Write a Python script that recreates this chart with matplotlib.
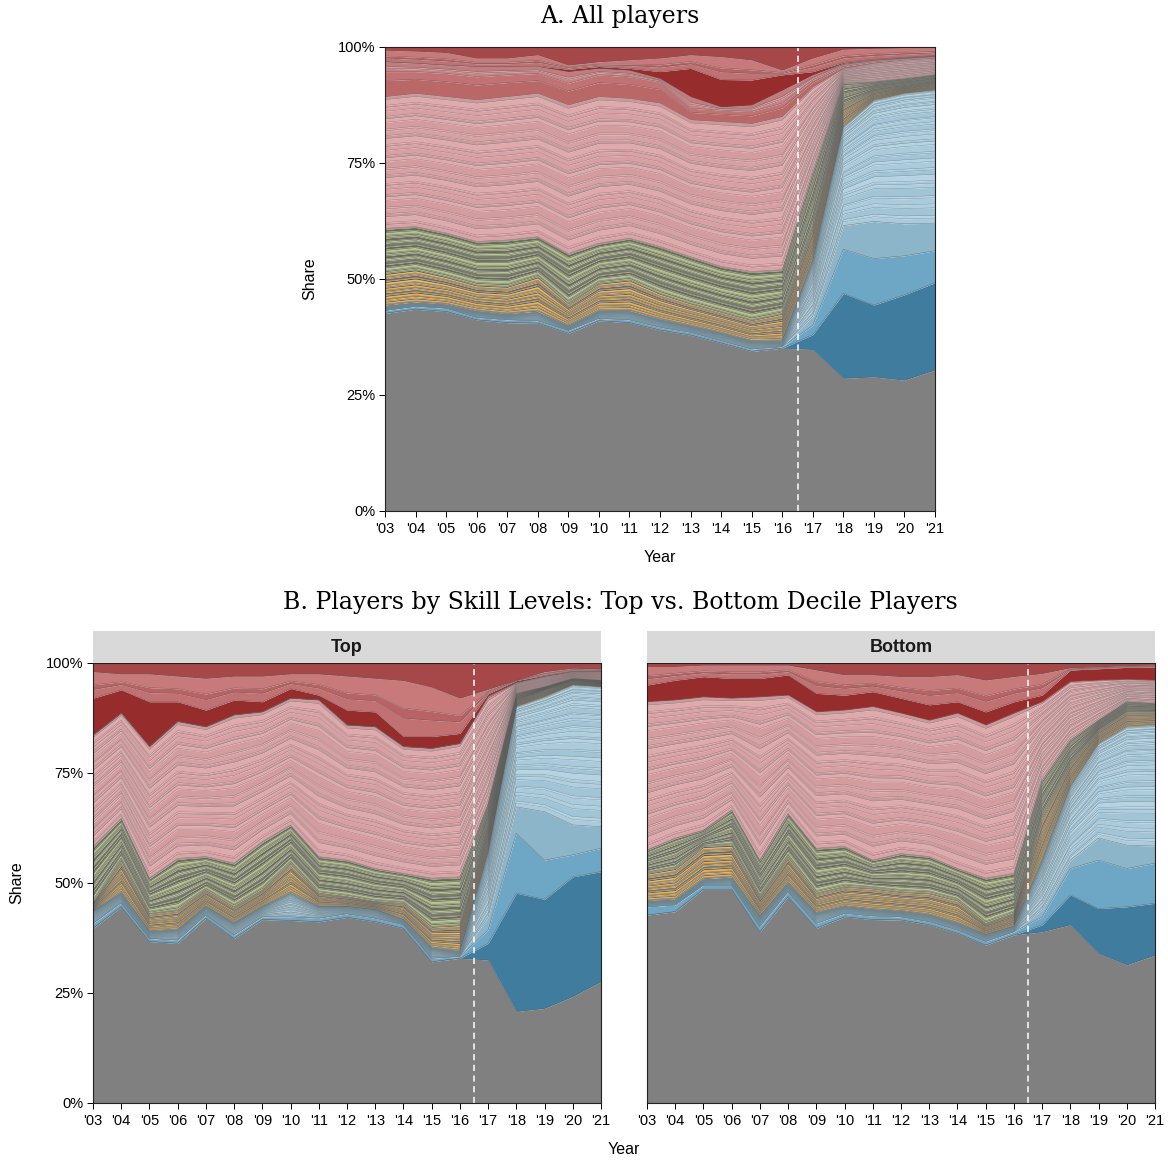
import numpy as np
import matplotlib.pyplot as plt

W, H = 1168, 1162
years = list(range(2003, 2022))
year_labels = ["'%02d" % (y % 100) for y in years]

groups = ['gray', 'dblue', 'mblue', 'lblue2', 'lblue', 'orange', 'green',
          'pink', 'red_mid', 'rose', 'darkred', 'salmon', 'topred']

# ---- Panel A: all players (share in %, bottom to top) ----
all_gray = [42.6, 43.5, 43.0, 41.2, 40.6, 40.5, 38.3, 41.0, 40.6, 39.0, 37.9, 36.2, 34.4, 35.1, 34.8, 28.6, 28.9, 28.2, 30.4]
all_dblue = [0, 0, 0, 0, 0, 0, 0, 0, 0, 0, 0, 0, 0, 0, 3.2, 18.3, 15.5, 18.4, 18.8]
all_mblue = [0.6, 0.6, 0.7, 0.5, 0.6, 0.5, 0.6, 0.5, 0.6, 0.6, 0.6, 0.5, 0.5, 0.3, 2.0, 9.5, 10.0, 8.4, 6.9]
all_lblue2 = [0, 0, 0, 0, 0, 0, 0, 0, 0, 0, 0, 0, 0, 0, 2.0, 5.1, 8.0, 6.9, 5.9]
all_lblue = [0.9, 0.7, 0.7, 1.3, 1.1, 1.8, 0.9, 1.5, 1.8, 1.6, 1.3, 1.6, 1.6, 1.1, 11.8, 21.3, 26.1, 28.1, 28.7]
all_orange = [7.1, 7.2, 6.1, 5.7, 6.1, 7.7, 5.0, 6.1, 6.8, 5.7, 5.0, 4.7, 4.7, 6.1, 7.5, 4.7, 2.0, 1.4, 1.6]
all_green = [9.7, 9.3, 9.4, 9.4, 10.0, 8.6, 10.7, 8.6, 9.0, 10.1, 10.0, 9.7, 10.4, 9.4, 11.5, 4.7, 2.0, 1.8, 1.7]
all_pink = [28.4, 28.7, 29.4, 30.5, 30.9, 30.9, 32.0, 31.6, 30.1, 30.9, 29.5, 31.2, 31.9, 33.0, 18.6, 3.2, 4.0, 4.0, 3.6]
all_red_mid = [5.4, 4.7, 5.0, 5.0, 4.7, 4.3, 4.7, 4.7, 4.7, 4.6, 2.5, 2.5, 2.6, 2.9, 1.5, 0.6, 0.5, 0.3, 0.3]
all_rose = [2.1, 1.8, 1.8, 2.2, 1.8, 1.5, 2.5, 1.4, 1.4, 0.7, 2.5, 0.7, 1.4, 2.8, 1.1, 0.5, 0.3, 0.2, 0.2]
all_darkred = [0, 0, 0, 0, 0, 0.1, 0.5, 0.4, 0.4, 1.5, 6.1, 5.9, 5.4, 3.3, 0.7, 0.2, 0.1, 0.1, 0.1]
all_salmon = [2.5, 2.6, 2.7, 1.8, 1.8, 2.4, 0.9, 1.0, 1.8, 2.9, 2.9, 4.9, 4.3, 1.0, 2.9, 2.8, 2.3, 2.0, 1.6]
all_topred = [0.7, 0.9, 1.2, 2.4, 2.4, 1.7, 3.9, 3.2, 2.8, 2.4, 1.7, 2.1, 2.8, 5.0, 2.4, 0.5, 0.3, 0.2, 0.2]

# ---- Panel B: top decile players ----
top_gray = [39.7, 44.6, 36.7, 36.3, 42.0, 37.4, 41.7, 41.5, 41.2, 42.2, 41.2, 39.7, 32.1, 32.9, 32.5, 20.8, 21.5, 24.2, 27.6]
top_dblue = [0, 0, 0, 0, 0, 0, 0, 0, 0, 0, 0, 0, 0, 0, 3.8, 26.9, 24.8, 27.2, 25.0]
top_mblue = [1.1, 0.9, 0.7, 0.7, 0.7, 0.8, 0.6, 0.8, 0.8, 0.8, 0.8, 0.8, 0.8, 0.4, 3.0, 13.6, 8.9, 5.0, 5.3]
top_lblue2 = [0, 0, 0, 0, 0, 0, 0, 0, 0, 0, 0, 0, 0, 0, 3.0, 6.0, 11.0, 6.8, 4.9]
top_lblue = [2.7, 2.2, 1.5, 2.3, 1.9, 2.6, 2.3, 5.4, 2.6, 1.6, 1.9, 1.1, 2.3, 1.1, 14.7, 22.8, 26.1, 31.8, 31.8]
top_orange = [1.9, 7.5, 4.2, 4.6, 3.8, 3.8, 3.8, 6.8, 3.1, 2.3, 1.9, 3.8, 4.9, 6.1, 5.0, 1.5, 1.6, 1.1, 0.8]
top_green = [12.9, 9.5, 8.0, 11.7, 7.6, 9.9, 11.0, 8.7, 8.3, 8.3, 7.5, 6.8, 11.0, 10.9, 6.1, 1.5, 0.7, 0.4, 0.7]
top_pink = [25.3, 23.9, 29.9, 31.1, 29.5, 33.7, 29.5, 28.8, 35.6, 30.7, 32.2, 28.8, 29.5, 30.3, 23.9, 2.3, 2.3, 1.5, 1.9]
top_red_mid = [0, 0, 0, 0, 0, 0, 0, 0, 0, 0, 0, 0, 0, 0, 0.5, 0.2, 0.1, 0.1, 0.1]
top_rose = [0] * 19
top_darkred = [8.4, 5.3, 10.2, 4.5, 3.8, 3.4, 2.3, 2.2, 1.1, 3.4, 3.4, 2.3, 2.7, 2.3, 0.5, 0.4, 0.2, 0.1, 0.1]
top_salmon = [6.0, 3.6, 6.3, 5.8, 7.2, 5.4, 5.8, 3.3, 4.8, 7.7, 7.6, 12.7, 11.2, 8.0, 1.0, 0.1, 0.8, 0.6, 0.4]
top_topred = [2.0, 2.5, 2.5, 3.0, 3.5, 3.0, 3.0, 2.5, 2.5, 3.0, 3.5, 4.0, 5.5, 8.0, 6.0, 3.9, 2.0, 1.2, 1.4]

# ---- Panel B: bottom decile players ----
bot_gray = [42.7, 43.5, 48.6, 48.6, 38.9, 46.9, 39.7, 42.3, 41.7, 41.6, 40.5, 38.6, 35.9, 38.2, 38.9, 40.5, 34.0, 31.4, 33.6]
bot_dblue = [0, 0, 0, 0, 0, 0, 0, 0, 0, 0, 0, 0, 0, 0, 1.6, 6.8, 10.2, 13.2, 11.8]
bot_mblue = [1.9, 1.5, 0.9, 0.9, 1.2, 1.1, 1.1, 0.8, 0.8, 0.7, 0.7, 0.7, 0.8, 0.7, 1.8, 6.0, 11.0, 8.7, 9.1]
bot_lblue2 = [0, 0, 0, 0, 0, 0, 0, 0, 0, 0, 0, 0, 0, 0, 1.6, 1.9, 5.0, 5.3, 3.9]
bot_lblue = [1.2, 1.1, 1.2, 1.6, 2.2, 1.9, 2.3, 1.5, 1.4, 1.2, 1.5, 1.5, 1.5, 1.2, 11.1, 16.7, 21.5, 26.9, 27.5]
bot_orange = [6.4, 7.2, 7.6, 7.5, 4.6, 6.1, 4.6, 4.6, 4.9, 4.5, 5.0, 5.3, 2.6, 3.0, 10.1, 5.3, 3.1, 3.4, 3.0]
bot_green = [5.3, 6.9, 3.7, 8.0, 8.3, 9.8, 10.2, 9.1, 6.4, 8.7, 8.3, 7.2, 10.3, 9.1, 8.3, 5.3, 2.2, 2.3, 1.9]
bot_pink = [33.7, 31.4, 30.3, 25.4, 37.1, 26.9, 31.0, 31.0, 34.9, 31.9, 31.0, 35.3, 34.8, 36.4, 17.8, 13.3, 9.1, 5.1, 5.3]
bot_red_mid = [0] * 19
bot_rose = [0] * 19
bot_darkred = [3.8, 4.5, 4.6, 4.5, 4.2, 4.6, 4.2, 3.4, 3.4, 3.4, 3.5, 2.6, 3.0, 2.6, 1.5, 2.6, 2.6, 2.7, 3.0]
bot_salmon = [4.2, 3.1, 2.6, 3.0, 3.0, 2.2, 5.3, 4.6, 3.8, 4.9, 6.4, 6.1, 7.2, 5.7, 4.9, 0.5, 0.4, 0.4, 0.4]
bot_topred = [0.8, 0.8, 0.5, 0.5, 0.5, 0.5, 1.6, 2.7, 2.7, 3.1, 3.1, 2.7, 3.9, 3.1, 2.4, 1.1, 0.9, 0.6, 0.5]

panel_all = dict(gray=all_gray, dblue=all_dblue, mblue=all_mblue, lblue2=all_lblue2,
                 lblue=all_lblue, orange=all_orange, green=all_green, pink=all_pink,
                 red_mid=all_red_mid, rose=all_rose, darkred=all_darkred,
                 salmon=all_salmon, topred=all_topred)
panel_top = dict(gray=top_gray, dblue=top_dblue, mblue=top_mblue, lblue2=top_lblue2,
                 lblue=top_lblue, orange=top_orange, green=top_green, pink=top_pink,
                 red_mid=top_red_mid, rose=top_rose, darkred=top_darkred,
                 salmon=top_salmon, topred=top_topred)
panel_bot = dict(gray=bot_gray, dblue=bot_dblue, mblue=bot_mblue, lblue2=bot_lblue2,
                 lblue=bot_lblue, orange=bot_orange, green=bot_green, pink=bot_pink,
                 red_mid=bot_red_mid, rose=bot_rose, darkred=bot_darkred,
                 salmon=bot_salmon, topred=bot_topred)

# fill tints per group, how many thin strata each group is split into, divider colour
palettes = {
    'gray': ['#808080'],
    'dblue': ['#3f7c9d'],
    'mblue': ['#6ea7c6'],
    'lblue2': ['#8cb5ca'],
    'lblue': ['#aacbdc', '#b6d3e2', '#a1c4d6', '#afcede'],
    'orange': ['#f2b13f', '#6e6e6e', '#d9aa62', '#8a7d66', '#f0b95a', '#5f5f5f'],
    'green': ['#a9b67b', '#7b7e6c', '#b6c08a', '#9aa56f', '#6d6f63'],
    'pink': ['#dba2a5', '#d59ca0', '#e0aaad', '#c99a9c', '#d8a0a3'],
    'red_mid': ['#ba6767', '#c27273'],
    'rose': ['#c98284', '#d29395', '#c47b7d'],
    'darkred': ['#972c2d'],
    'salmon': ['#c27172', '#b86263', '#c87a7b'],
    'topred': ['#a64849'],
}
n_strata = {'gray': 1, 'dblue': 1, 'mblue': 1, 'lblue2': 1, 'lblue': 40, 'orange': 24,
            'green': 26, 'pink': 34, 'red_mid': 2, 'rose': 3, 'darkred': 1,
            'salmon': 3, 'topred': 1}
line_cols = {'pink': '#857475', 'lblue': '#6c8591'}
spacing_cycle = [1.0, 0.55, 1.5, 0.8, 1.25, 0.45, 1.8, 0.9, 0.65, 1.35]


def fractions(n):
    w = np.array([spacing_cycle[k % len(spacing_cycle)] for k in range(n)])
    return np.concatenate([[0], np.cumsum(w)]) / w.sum()


def draw_panel(ax, shares, ylabels=True):
    x = np.array(years)
    base = np.zeros(len(years))
    for g in groups:
        vals = np.asarray(shares[g], float)
        if vals.max() <= 0:
            continue
        n = n_strata[g]
        t = fractions(n)
        if g == 'lblue':
            t = 1 - (1 - t) ** 1.6  # strata pack tighter toward the top
        cols = palettes[g]
        for k in range(n):
            ax.fill_between(x, base + vals * t[k], base + vals * t[k + 1],
                            color=cols[k % len(cols)], lw=0)
        lc = line_cols.get(g, '#5e5e5e')
        for k in range(1, n + 1):
            ax.plot(x, base + vals * t[k], color=lc, lw=0.3, alpha=0.85)
        base = base + vals
    ax.axvline(2016.5, color='white', lw=1.1, ls=(0, (4, 3)))
    ax.set_xlim(2003, 2021)
    ax.set_ylim(0, 100)
    ax.set_xticks(years)
    ax.set_xticklabels(year_labels)
    ax.set_yticks([0, 25, 50, 75, 100])
    ax.set_yticklabels(['0%', '25%', '50%', '75%', '100%'])
    ax.tick_params(direction='out', length=4, width=0.7, labelsize=10.5, pad=3,
                   colors='black')
    ax.tick_params(axis='x', pad=4)
    if not ylabels:
        ax.tick_params(axis='y', left=False, labelleft=False)
    for s in ax.spines.values():
        s.set_linewidth(0.8)
        s.set_color('#222222')


def box(x0, y0, x1, y1):
    return [x0 / W, 1 - y1 / H, (x1 - x0) / W, (y1 - y0) / H]


plt.rcParams['font.family'] = ['Liberation Sans', 'DejaVu Sans']
fig = plt.figure(figsize=(W / 100, H / 100), dpi=100)

axA = fig.add_axes(box(385, 47, 935, 511))
draw_panel(axA, panel_all)
axT = fig.add_axes(box(93, 663, 601, 1103))
draw_panel(axT, panel_top)
axB = fig.add_axes(box(647, 663, 1155, 1103))
draw_panel(axB, panel_bot, ylabels=False)

for (x0, x1, name) in [(93, 601, 'Top'), (647, 1155, 'Bottom')]:
    st = fig.add_axes(box(x0, 631, x1, 663))
    st.set_facecolor('#d9d9d9')
    st.set_xticks([])
    st.set_yticks([])
    for s in st.spines.values():
        s.set_visible(False)
    st.text(0.5, 0.5, name, ha='center', va='center', fontsize=13,
            fontweight='bold', color='#1a1a1a', transform=st.transAxes)

fig.text(620 / W, 1 - 17 / H, 'A. All players', ha='center', va='center',
         fontsize=17, family='DejaVu Serif')
fig.text(620 / W, 1 - 602 / H, 'B. Players by Skill Levels: Top vs. Bottom Decile Players',
         ha='center', va='center', fontsize=17, family='DejaVu Serif')
fig.text(310 / W, 1 - 279 / H, 'Share', rotation=90, ha='center', va='center', fontsize=11.5)
fig.text(660 / W, 1 - 558 / H, 'Year', ha='center', va='center', fontsize=11.5)
fig.text(17 / W, 1 - 883 / H, 'Share', rotation=90, ha='center', va='center', fontsize=11.5)
fig.text(624 / W, 1 - 1150 / H, 'Year', ha='center', va='center', fontsize=11.5)

fig.savefig('out.png', dpi=100, facecolor='white')
